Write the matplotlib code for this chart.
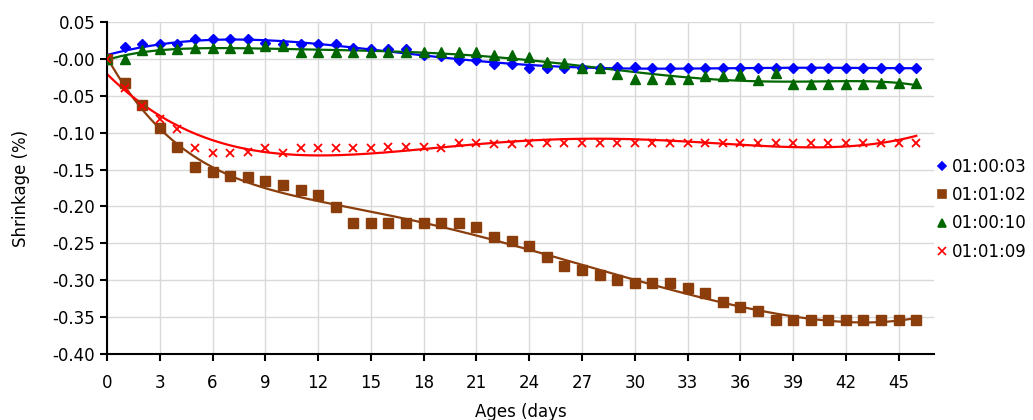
import numpy as np
import matplotlib
matplotlib.use("Agg")
import matplotlib.pyplot as plt
from matplotlib.lines import Line2D

days = list(range(47))

s_010003 = [0.0, 0.016, 0.0196, 0.0196, 0.0196, 0.0264, 0.0264, 0.0264, 0.0264, 0.022,
            0.0206, 0.0196, 0.0196, 0.0196, 0.015, 0.0138, 0.0138, 0.0138, 0.0047, 0.0034,
            -0.002, -0.002, -0.0065, -0.0065, -0.0124, -0.0124, -0.0124, -0.013, -0.0124, -0.011,
            -0.011, -0.0124, -0.0124, -0.0124, -0.0124, -0.0124, -0.0124, -0.0124, -0.0124, -0.0124,
            -0.0124, -0.0124, -0.0124, -0.0124, -0.0124, -0.0124, -0.0124]

s_010102 = [0.0, -0.033, -0.063, -0.094, -0.12, -0.146, -0.153, -0.159, -0.16, -0.166,
            -0.171, -0.177, -0.184, -0.201, -0.222, -0.222, -0.222, -0.222, -0.222, -0.222,
            -0.222, -0.228, -0.241, -0.247, -0.254, -0.268, -0.28, -0.286, -0.293, -0.299,
            -0.304, -0.304, -0.304, -0.311, -0.317, -0.329, -0.336, -0.342, -0.354, -0.354,
            -0.354, -0.354, -0.354, -0.354, -0.354, -0.354, -0.354]

s_010010 = [0.0, 0.0, 0.0115, 0.0129, 0.0129, 0.015, 0.015, 0.015, 0.015, 0.017,
            0.017, 0.009, 0.009, 0.009, 0.009, 0.009, 0.009, 0.009, 0.009, 0.009,
            0.009, 0.009, 0.0047, 0.0047, 0.0025, -0.0043, -0.005, -0.013, -0.013, -0.02,
            -0.027, -0.027, -0.027, -0.027, -0.0237, -0.0237, -0.021, -0.028, -0.019, -0.0336,
            -0.0336, -0.0336, -0.0336, -0.0336, -0.033, -0.032, -0.032]

s_010109 = [0.0, -0.039, -0.064, -0.082, -0.095, -0.121, -0.128, -0.128, -0.126, -0.121,
            -0.128, -0.121, -0.121, -0.121, -0.121, -0.121, -0.120, -0.1195, -0.120, -0.121,
            -0.114, -0.114, -0.115, -0.115, -0.114, -0.114, -0.114, -0.114, -0.114, -0.114,
            -0.114, -0.114, -0.114, -0.114, -0.114, -0.114, -0.114, -0.114, -0.114, -0.114,
            -0.114, -0.114, -0.114, -0.114, -0.114, -0.114, -0.114]

labels = ["01:00:03", "01:01:02", "01:00:10", "01:01:09"]
series = [s_010003, s_010102, s_010010, s_010109]
colors = ["#0000ff", "#8b3e0c", "#006600", "#ff0000"]
markers = ["D", "s", "^", "x"]
msizes = [5, 6.5, 6.5, 6]
fit_order = [6, 6, 6, 4]

plt.rcParams['font.family'] = ['DejaVu Sans']

fig = plt.figure(figsize=(10.33, 4.2), dpi=100)
ax = fig.add_axes([0.1036, 0.157, 0.8004, 0.7906])

x = np.array(days)
xs = np.linspace(0, 46, 300)
handles = []
for y, c, m, ms, lab, deg in zip(series, colors, markers, msizes, labels, fit_order):
    # polynomial trendline like the spreadsheet one
    coef = np.polyfit(x, y, deg)
    ax.plot(xs, np.polyval(coef, xs), color=c, lw=1.6, zorder=2)
    if m == "x":
        ax.plot(x, y, linestyle="none", marker=m, color=c, ms=ms, mew=1.3, zorder=3)
    else:
        ax.plot(x, y, linestyle="none", marker=m, color=c, ms=ms, mec=c, zorder=3)
    handles.append(Line2D([], [], linestyle="none", marker=m, color=c,
                          ms=ms * 0.9, mew=1.2, label=lab))

ax.set_xlim(0, 47)
ax.set_ylim(-0.40, 0.05)
ax.set_xticks(np.arange(0, 46, 3))
ax.set_yticks(np.arange(-0.40, 0.051, 0.05))
ax.set_yticklabels(["%.2f" % v for v in np.arange(-0.40, 0.051, 0.05)])
ax.grid(True, color="#d9d9d9", lw=1.0)
ax.set_axisbelow(True)
for s in ["top", "right"]:
    ax.spines[s].set_visible(False)
for s in ["left", "bottom"]:
    ax.spines[s].set_linewidth(1.5)
ax.tick_params(direction="out", length=5, width=1.5, labelsize=12)
ax.tick_params(axis="x", pad=9)
ax.set_ylabel("Shrinkage (%)", fontsize=12, labelpad=16)
ax.set_xlabel("Ages (days", fontsize=12, labelpad=8)

fig.legend(handles=handles, loc="upper left", bbox_to_anchor=(0.888, 0.66),
           frameon=False, fontsize=12, handletextpad=0.0, labelspacing=0.62,
           handlelength=1.2)

fig.savefig("out.png", dpi=100)
